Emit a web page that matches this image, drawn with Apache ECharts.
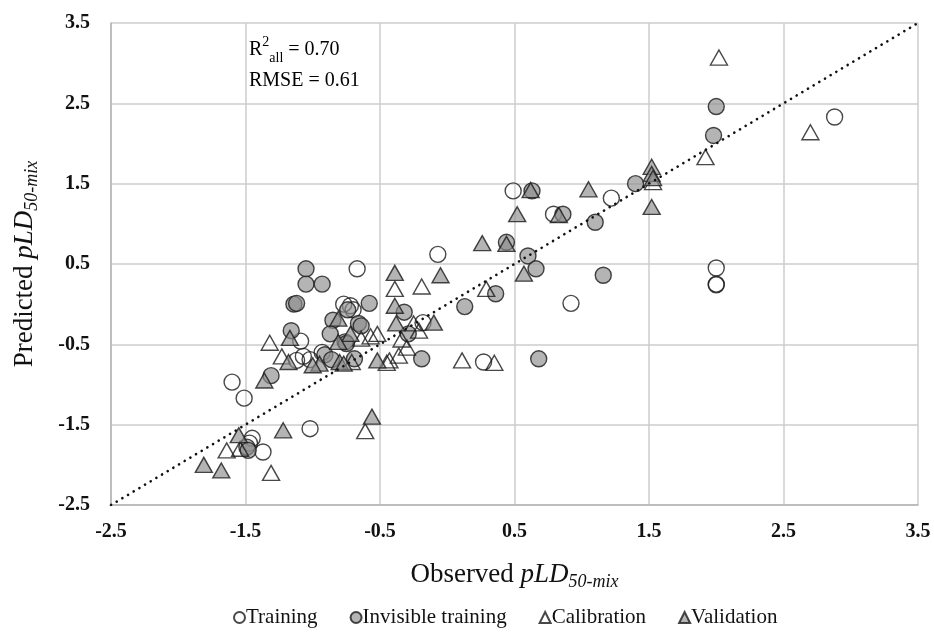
<!DOCTYPE html>
<html>
<head>
<meta charset="utf-8">
<script src="https://cdn.jsdelivr.net/npm/echarts@6/dist/echarts.min.js"></script>
<style>
  html, body { margin: 0; padding: 0; background: #fff; }
  #chart { width: 934px; height: 633px; }
</style>
</head>
<body>
<div id="chart"></div>
<script>
// observed / predicted pairs
const training = [
  [2.88, 2.33], [2.0, 0.45], [2.0, 0.25], [2.0, 0.24], [1.22, 1.32], [0.49, 1.41],
  [0.79, 1.12], [0.92, 0.01], [0.27, -0.72], [-0.07, 0.62], [-0.67, 0.44], [-0.77, 0.0],
  [-0.72, -0.02], [-0.70, -0.07], [-0.18, -0.23], [-1.09, -0.46], [-1.07, -0.65],
  [-1.02, -0.69], [-1.12, -0.70], [-0.93, -0.60], [-1.60, -0.97], [-1.51, -1.17],
  [-1.02, -1.55], [-1.45, -1.67], [-1.47, -1.73], [-1.37, -1.84]
]
const invisibleTraining = [
  [2.0, 2.46], [1.98, 2.10], [1.40, 1.50], [0.63, 1.41], [0.86, 1.12], [1.10, 1.02],
  [0.44, 0.77], [0.60, 0.60], [0.66, 0.44], [1.16, 0.36], [0.36, 0.13], [0.13, -0.03],
  [0.68, -0.68], [-1.05, 0.44], [-1.05, 0.25], [-0.93, 0.25], [-1.14, 0.0], [-1.12, 0.01],
  [-0.58, 0.01], [-0.32, -0.10], [-0.29, -0.37], [-0.19, -0.68], [-0.85, -0.20],
  [-0.66, -0.24], [-0.64, -0.27], [-0.74, -0.07], [-0.87, -0.37], [-0.76, -0.47],
  [-0.75, -0.49], [-0.91, -0.63], [-0.86, -0.69], [-0.69, -0.68], [-1.16, -0.33],
  [-1.31, -0.89], [-1.49, -1.78], [-1.48, -1.82]
]
const calibration = [
  [2.02, 3.07], [1.92, 1.83], [2.70, 2.14], [1.53, 1.52], [0.29, 0.19], [0.35, -0.73],
  [0.11, -0.70], [-0.19, 0.22], [-0.39, 0.19], [-0.25, -0.24], [-0.21, -0.33],
  [-0.34, -0.44], [-0.30, -0.54], [-0.36, -0.64], [-0.43, -0.70], [-0.45, -0.73],
  [-0.57, -0.40], [-0.52, -0.37], [-0.64, -0.43], [-0.71, -0.72], [-1.32, -0.48],
  [-1.23, -0.65], [-1.64, -1.82], [-1.54, -1.80], [-1.31, -2.10], [-0.61, -1.58]
]
const validation = [
  [1.52, 1.71], [1.52, 1.62], [1.53, 1.57], [1.52, 1.21], [1.05, 1.43], [0.62, 1.42],
  [0.52, 1.12], [0.83, 1.11], [0.26, 0.76], [0.44, 0.75], [0.57, 0.38], [-0.39, 0.39],
  [-0.05, 0.36], [-0.39, -0.02], [-0.38, -0.24], [-0.10, -0.23], [-0.81, -0.18],
  [-0.72, -0.37], [-0.81, -0.47], [-0.52, -0.70], [-0.80, -0.72], [-0.77, -0.74],
  [-0.95, -0.74], [-1.00, -0.76], [-1.17, -0.42], [-1.18, -0.72], [-1.36, -0.95],
  [-1.22, -1.57], [-1.55, -1.63], [-1.81, -2.00], [-1.68, -2.07], [-0.56, -1.40]
]
const identityLine = [[-2.5, -2.5], [3.5, 3.5]]
const axisMin = -2.5
const axisMax = 3.5
const legendNames = ['Training', 'Invisible training', 'Calibration', 'Validation']

const serif = '"Liberation Serif", "DejaVu Serif", serif'
const grayFill = 'rgba(140,140,140,0.82)'
const edge = '#1a1a1a'

const chart = echarts.init(document.getElementById('chart'))

const axisCommon = {
  type: 'value',
  min: axisMin,
  max: axisMax,
  interval: 1,
  axisLine: { onZero: false, lineStyle: { color: '#b4b4b4', width: 1.5 } },
  axisTick: { show: false },
  splitLine: { lineStyle: { color: '#cccccc', width: 1.5 } },
  axisLabel: {
    fontFamily: serif,
    fontWeight: 'bold',
    fontSize: 20,
    color: '#111',
    formatter: v => v.toFixed(1)
  },
  nameLocation: 'middle',
  nameTextStyle: {
    fontFamily: serif,
    color: '#111',
    rich: {
      n: { fontFamily: serif, fontSize: 27, color: '#111', lineHeight: 32 },
      i: { fontFamily: serif, fontSize: 27, fontStyle: 'italic', color: '#111', lineHeight: 32 },
      s: { fontFamily: serif, fontSize: 18, fontStyle: 'italic', color: '#111', lineHeight: 16, verticalAlign: 'bottom' }
    }
  }
}

const option = {
  backgroundColor: '#fff',
  animation: false,
  grid: { left: 111, right: 16, top: 23, bottom: 128 },
  xAxis: Object.assign({}, axisCommon, {
    name: '{n|Observed }{i|pLD}{s|50-mix}',
    nameGap: 54,
    axisLabel: Object.assign({}, axisCommon.axisLabel, { margin: 17 })
  }),
  yAxis: Object.assign({}, axisCommon, {
    name: '{n|Predicted }{i|pLD}{s|50-mix}',
    nameGap: 70,
    axisLabel: Object.assign({}, axisCommon.axisLabel, { margin: 21 })
  }),
  legend: {
    data: legendNames,
    bottom: 0,
    left: 228,
    itemWidth: 11,
    itemHeight: 11,
    itemGap: 32,
    textStyle: { fontFamily: serif, fontSize: 21, color: '#111', padding: [0, 0, 0, -4] }
  },
  graphic: [{
    type: 'text',
    left: 249,
    top: 34,
    style: {
      text: '{n|R}{sup|2}{sub|all}{n| = 0.70}\n{n|RMSE = 0.61}',
      fontFamily: serif,
      rich: {
        n: { fontFamily: serif, fontSize: 20, color: '#111', lineHeight: 31 },
        sup: { fontFamily: serif, fontSize: 14, color: '#111', lineHeight: 31, verticalAlign: 'top', padding: [1, 0, 0, 0] },
        sub: { fontFamily: serif, fontSize: 14, color: '#111', lineHeight: 13, verticalAlign: 'bottom' }
      }
    }
  }],
  series: [
    {
      name: 'Training',
      type: 'scatter',
      data: training,
      symbol: 'circle',
      symbolSize: 16,
      itemStyle: { color: 'rgba(255,255,255,0)', borderColor: edge, borderWidth: 1.4 },
      z: 3
    },
    {
      name: 'Invisible training',
      type: 'scatter',
      data: invisibleTraining,
      symbol: 'circle',
      symbolSize: 16,
      itemStyle: { color: grayFill, borderColor: edge, borderWidth: 1.4 },
      z: 3
    },
    {
      name: 'Calibration',
      type: 'scatter',
      data: calibration,
      symbol: 'triangle',
      symbolSize: [17, 15],
      itemStyle: { color: 'rgba(255,255,255,0)', borderColor: edge, borderWidth: 1.4 },
      z: 3
    },
    {
      name: 'Validation',
      type: 'scatter',
      data: validation,
      symbol: 'triangle',
      symbolSize: [17, 15],
      itemStyle: { color: grayFill, borderColor: edge, borderWidth: 1.4 },
      z: 3
    },
    {
      name: 'y = x',
      type: 'line',
      data: identityLine,
      symbol: 'none',
      silent: true,
      lineStyle: { color: '#111', width: 2.6, type: [0.1, 6.5], cap: 'round' },
      z: 4
    }
  ]
}

chart.setOption(option)
</script>
</body>
</html>
